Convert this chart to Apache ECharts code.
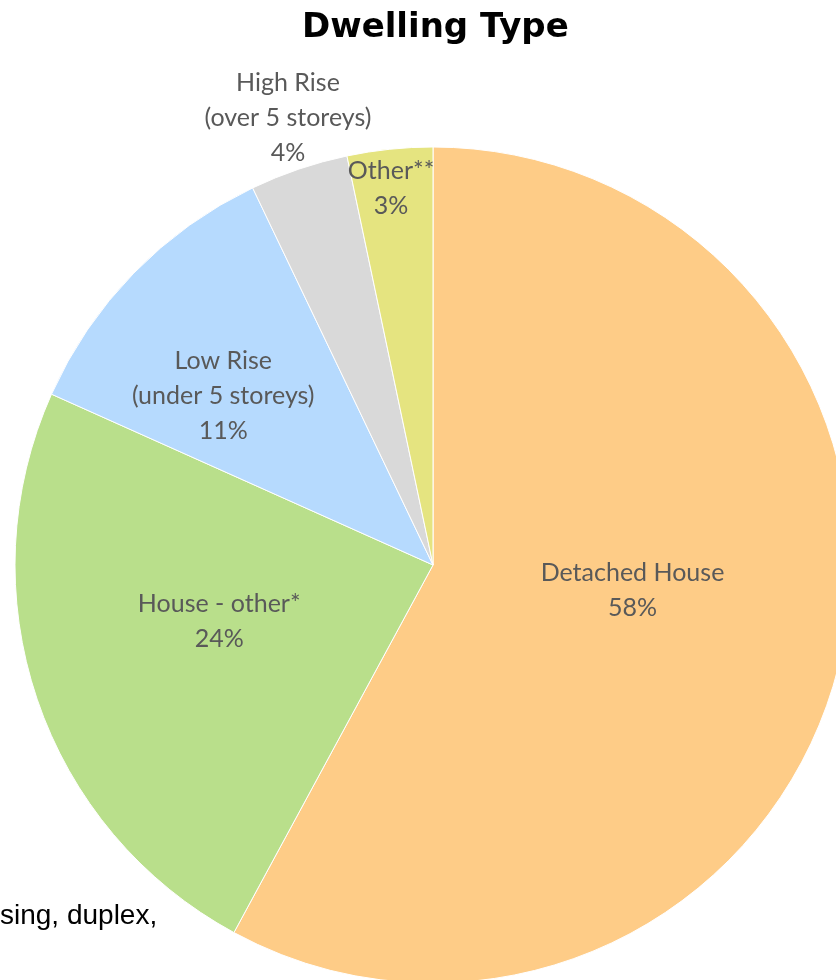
<!DOCTYPE html>
<html><head><meta charset="utf-8">
<script src="https://cdn.jsdelivr.net/npm/echarts@6/dist/echarts.min.js"></script>
<style>html,body{margin:0;padding:0;background:#fff}#c{width:836px;height:980px}</style>
</head><body><div id="c"></div>
<script>
const categories = ['Detached House', 'House - other*', 'Low Rise\n(under 5 storeys)', 'High Rise\n(over 5 storeys)', 'Other**'];
const shares = [57.9, 23.8, 11.2, 3.8, 3.3];
const titleText = 'Dwelling Type';
const footnoteText = 'sing, duplex,';

const colors = ['#FECC87', '#B9DF8B', '#B6DAFE', '#D9D9D9', '#E5E480'];
const offsets = [[-6, -27], [-13, -12], [-58, -21], [-77, -246], [-20, -166]];

const chart = echarts.init(document.getElementById('c'), null, {renderer: 'canvas'});
chart.setOption({
  animation: false,
  backgroundColor: '#ffffff',
  title: {
    text: titleText, left: 297, top: 6,
    textStyle: {fontFamily: '"DejaVu Sans"', fontWeight: 'bold', fontSize: 34, color: '#000000'}
  },
  graphic: [{
    type: 'text', left: 0, top: 902, z: 0,
    style: {text: footnoteText, font: '28px "Liberation Sans", Arial', fill: '#000000'}
  }],
  series: [{
    type: 'pie',
    center: [433, 565],
    radius: [0, 418],
    startAngle: 90,
    clockwise: true,
    avoidLabelOverlap: false,
    itemStyle: {borderColor: '#ffffff', borderWidth: 1},
    label: {
      show: true, position: 'inside',
      fontFamily: 'Lato', fontSize: 25, lineHeight: 35, color: '#595959',
      formatter: p => p.name + '\n' + Math.round(p.value) + '%'
    },
    labelLayout: {hideOverlap: false},
    labelLine: {show: false},
    emphasis: {disabled: true},
    data: categories.map((c, i) => ({
      name: c, value: shares[i],
      itemStyle: {color: colors[i]},
      label: {offset: offsets[i]}
    }))
  }]
});
</script></body></html>
